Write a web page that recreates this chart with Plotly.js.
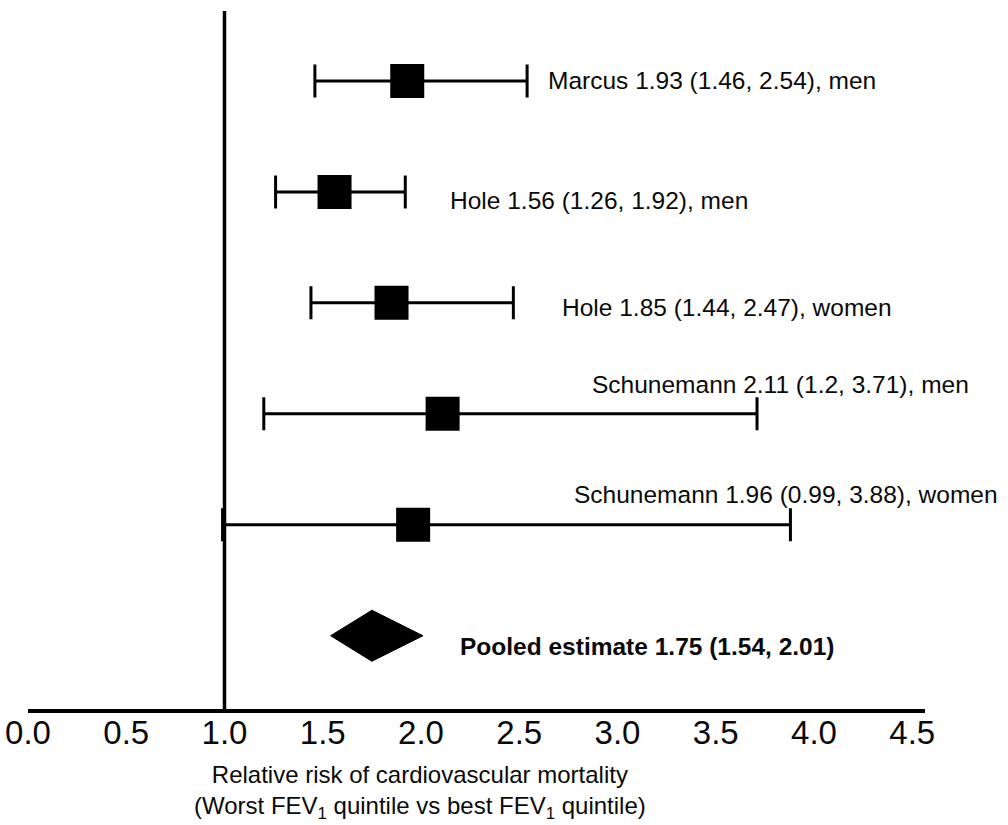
<!DOCTYPE html>
<html>
<head>
<meta charset="utf-8">
<script src="https://cdn.plot.ly/plotly-3.0.1.min.js"></script>
<style>
  html, body { margin: 0; padding: 0; background: #ffffff; }
  #chart { width: 1008px; height: 825px; }
</style>
</head>
<body>
<div id="chart"></div>
<script>
// ---------------- data ----------------
const studies = ['Marcus', 'Hole', 'Hole', 'Schunemann', 'Schunemann'];
const groups = ['men', 'men', 'women', 'men', 'women'];
const relRisk = [1.93, 1.56, 1.85, 2.11, 1.96];
const ciLow = [1.46, 1.26, 1.44, 1.2, 0.99];
const ciHigh = [2.54, 1.92, 2.47, 3.71, 3.88];

const pooledName = 'Pooled estimate';
const pooledRR = 1.75;
const pooledLow = 1.54;
const pooledHigh = 2.01;

const nullValue = 1.0;
const xTickVals = [0, 0.5, 1.0, 1.5, 2.0, 2.5, 3.0, 3.5, 4.0, 4.5];
const xTitleLine1 = 'Relative risk of cardiovascular mortality';
const xTitleLine2 = '(Worst FEV<sub>1</sub> quintile vs best FEV<sub>1</sub> quintile)';

// ---------------- layout helpers (positions / styles) ----------------
const W = 1008, H = 825;
const plotLeft = 28, plotRight = 925, plotTop = 11, plotBottom = 709;
const pxToPaperX = px => (px - plotLeft) / (plotRight - plotLeft);
const pyToPaperY = py => (plotBottom - py) / (plotBottom - plotTop);

// label placement (pixels) per row: left edge and vertical offset
const labelLeftPx = [546, 448, 560, 590, 572];
const labelDyPx = [0, 9, 5, -29, -30];
const pooledLabelLeftPx = 458;
const pooledLabelDyPx = 11;
const diamondHalfHeight = 0.23;
const labelFont = 'Arial, "Liberation Sans", Helvetica, sans-serif';

const rowIdx = relRisk.map((_, i) => i);
const pooledRow = relRisk.length;

const fmt = v => String(v);
const rowLabels = studies.map((s, i) =>
  `${s} ${fmt(relRisk[i])} (${fmt(ciLow[i])}, ${fmt(ciHigh[i])}), ${groups[i]}`);
const pooledText = `<b>${pooledName} ${fmt(pooledRR)} (${fmt(pooledLow)}, ${fmt(pooledHigh)})</b>`;

const studyTrace = {
  type: 'scatter',
  mode: 'markers',
  x: relRisk,
  y: rowIdx,
  marker: { symbol: 'square', size: 34, color: '#000000', line: { width: 0 } },
  error_x: {
    type: 'data',
    symmetric: false,
    array: ciHigh.map((h, i) => h - relRisk[i]),
    arrayminus: ciLow.map((l, i) => relRisk[i] - l),
    color: '#000000',
    thickness: 3,
    width: 16.5
  },
  hoverinfo: 'skip',
  cliponaxis: false
};

const diamondTrace = {
  type: 'scatter',
  mode: 'lines',
  x: [pooledLow, pooledRR, pooledHigh, pooledRR, pooledLow],
  y: [pooledRow, pooledRow - diamondHalfHeight, pooledRow, pooledRow + diamondHalfHeight, pooledRow],
  fill: 'toself',
  fillcolor: '#000000',
  line: { color: '#000000', width: 1 },
  hoverinfo: 'skip'
};

const annotations = rowLabels.map((t, i) => ({
  text: t,
  xref: 'paper', x: pxToPaperX(labelLeftPx[i]), xanchor: 'left',
  yref: 'y', y: rowIdx[i], yanchor: 'middle', yshift: -labelDyPx[i],
  showarrow: false,
  font: { family: labelFont, size: 24.5, color: '#0a0a0a' }
}));
annotations.push({
  text: pooledText,
  xref: 'paper', x: pxToPaperX(pooledLabelLeftPx), xanchor: 'left',
  yref: 'y', y: pooledRow, yanchor: 'middle', yshift: -pooledLabelDyPx,
  showarrow: false,
  font: { family: labelFont, size: 24.5, color: '#0a0a0a' }
});
annotations.push({
  text: xTitleLine1 + '<br>' + xTitleLine2,
  xref: 'paper', x: pxToPaperX(420), xanchor: 'center',
  yref: 'paper', y: pyToPaperY(792), yanchor: 'middle',
  align: 'center',
  showarrow: false, borderpad: 0,
  font: { family: labelFont, size: 24, color: '#0a0a0a' }
});

const pxPerUnit = 196.5;
const layout = {
  width: W, height: H,
  margin: { l: plotLeft, r: W - plotRight, t: plotTop, b: H - plotBottom, pad: 0 },
  paper_bgcolor: '#ffffff',
  plot_bgcolor: '#ffffff',
  showlegend: false,
  xaxis: {
    range: [0, (plotRight - plotLeft) / pxPerUnit],
    tickvals: xTickVals,
    tickformat: '.1f',
    ticks: '',
    ticklabelstandoff: -9,
    showgrid: false,
    zeroline: false,
    showline: true,
    linecolor: '#000000',
    linewidth: 4,
    tickfont: { family: labelFont, size: 33, color: '#0a0a0a' },
    fixedrange: true
  },
  yaxis: {
    range: [pooledRow + 0.66, -0.63],
    visible: false,
    showgrid: false,
    zeroline: false,
    fixedrange: true
  },
  shapes: [{
    type: 'line', xref: 'x', yref: 'paper',
    x0: nullValue, x1: nullValue, y0: 0, y1: 1,
    line: { color: '#000000', width: 3.5 }
  }],
  annotations: annotations
};

Plotly.newPlot('chart', [studyTrace, diamondTrace], layout, { displayModeBar: false, staticPlot: true });
</script>
</body>
</html>
